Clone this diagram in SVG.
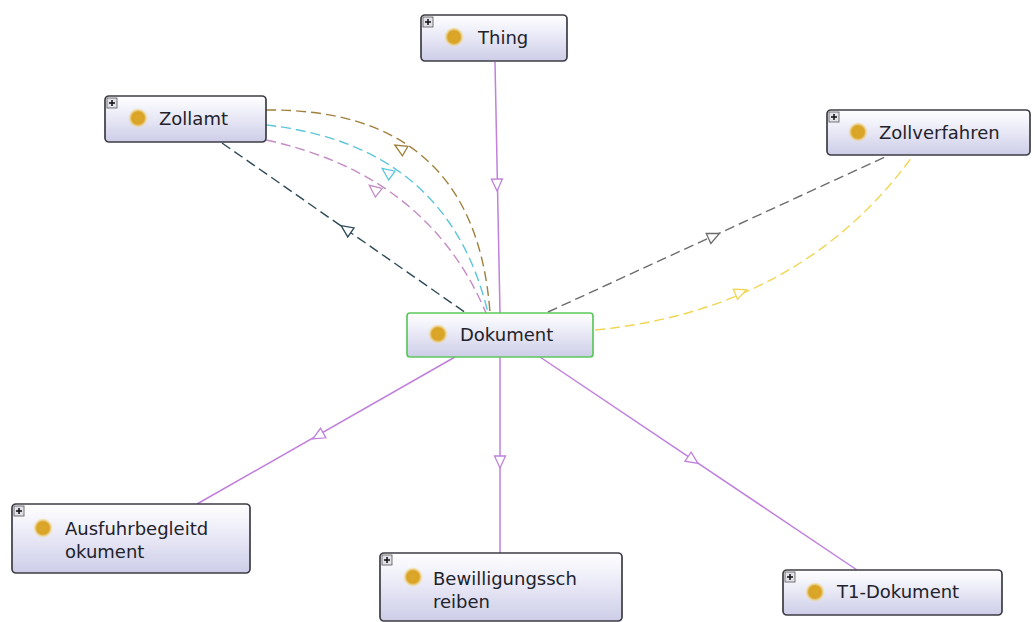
<svg xmlns="http://www.w3.org/2000/svg" width="1035" height="622" viewBox="0 0 1035 622">
  <defs>
    <linearGradient id="boxFill" x1="0" y1="0" x2="0" y2="1">
      <stop offset="0" stop-color="#ffffff"/>
      <stop offset="0.4" stop-color="#ececf8"/>
      <stop offset="1" stop-color="#cdcde8"/>
    </linearGradient>
    <radialGradient id="dot" cx="0.5" cy="0.5" r="0.5">
      <stop offset="0" stop-color="#dca82a"/>
      <stop offset="0.62" stop-color="#d9a326"/>
      <stop offset="0.8" stop-color="#ecc868" stop-opacity="0.7"/>
      <stop offset="1" stop-color="#f4dc90" stop-opacity="0"/>
    </radialGradient>
    <!-- open triangle arrowhead, pointing along +x, centred on origin -->
    <polygon id="tri" points="6,0 -6,-5.5 -6,5.5"/>
    <!-- expand icon drawn at a node's top-left corner -->
    <g id="plus">
      <rect x="0" y="0" width="10" height="10" fill="#e2e2ea" stroke="#555" stroke-width="0.8"/>
      <path d="M2,5 H8 M5,2 V8" stroke="#111" stroke-width="1.5"/>
    </g>
  </defs>
  <style>
    .box { fill: url(#boxFill); stroke: #3c3c44; stroke-width: 1.7; }
    .focus { fill: url(#boxFill); stroke: #5cc85c; stroke-width: 1.7; }
    .lbl { font-family: "DejaVu Sans", Verdana, sans-serif; font-size: 18px; fill: #22222a; }
    .isa { stroke: #c080dc; stroke-width: 1.5; fill: none; }
    .isa-head { stroke: #c080dc; stroke-width: 1.3; fill: #ffffff; }
    .rel { stroke-width: 1.4; fill: none; stroke-dasharray: 10 5; }
    .head { stroke-width: 1.3; fill: #ffffff; }
  </style>

  <rect width="1035" height="622" fill="#ffffff"/>

  <g id="connectors">
    <!-- subclass edges -->
    <path class="isa" d="M495,62 L500,313"/>
    <use href="#tri" class="isa-head" transform="translate(497,185) rotate(89)"/>
    <path class="isa" d="M455,357 L197,504"/>
    <use href="#tri" class="isa-head" transform="translate(318,436) rotate(150.3)"/>
    <path class="isa" d="M500,357 L500,553"/>
    <use href="#tri" class="isa-head" transform="translate(500,462) rotate(90)"/>
    <path class="isa" d="M540,357 L857,570"/>
    <use href="#tri" class="isa-head" transform="translate(693,460) rotate(33.9)"/>

    <!-- object properties towards Zollamt -->
    <path class="rel" stroke="#a0803c" d="M266,110 Q475,108 490,313"/>
    <use href="#tri" class="head" stroke="#a0803c" transform="translate(400,148) rotate(-150)"/>
    <path class="rel" stroke="#5cc6dc" d="M266,125 Q448,145 488,313"/>
    <use href="#tri" class="head" stroke="#5cc6dc" transform="translate(387,172) rotate(-144)"/>
    <path class="rel" stroke="#c48cc4" d="M266,140 Q428,175 486,313"/>
    <use href="#tri" class="head" stroke="#c48cc4" transform="translate(374,189) rotate(-142)"/>
    <path class="rel" stroke="#2e4a58" d="M222,143 L466,313"/>
    <use href="#tri" class="head" stroke="#2e4a58" transform="translate(346,229) rotate(-145.1)"/>

    <!-- object properties towards Zollverfahren -->
    <path class="rel" stroke="#6c6c6c" d="M548,312 L885,157"/>
    <use href="#tri" class="head" stroke="#6c6c6c" transform="translate(714,236) rotate(-24.7)"/>
    <path class="rel" stroke="#f0d654" d="M595,330 Q800,310 912,157"/>
    <use href="#tri" class="head" stroke="#f0d654" transform="translate(741,292) rotate(-22)"/>
  </g>

  <g id="node-thing">
    <rect class="box" x="421" y="15" width="146" height="46" rx="4"/>
    <use href="#plus" x="423" y="17"/>
    <circle cx="454" cy="37" r="10" fill="url(#dot)"/>
    <text class="lbl" x="478" y="44">Thing</text>
  </g>

  <g id="node-zollamt">
    <rect class="box" x="105" y="96" width="161" height="46" rx="4"/>
    <use href="#plus" x="107" y="98"/>
    <circle cx="138" cy="118" r="10" fill="url(#dot)"/>
    <text class="lbl" x="159" y="125">Zollamt</text>
  </g>

  <g id="node-zollverfahren">
    <rect class="box" x="827" y="110" width="203" height="45" rx="4"/>
    <use href="#plus" x="829" y="112"/>
    <circle cx="858" cy="132" r="10" fill="url(#dot)"/>
    <text class="lbl" x="879" y="139">Zollverfahren</text>
  </g>

  <g id="node-dokument">
    <rect class="focus" x="407" y="313" width="186" height="44" rx="3"/>
    <circle cx="438" cy="334" r="10" fill="url(#dot)"/>
    <text class="lbl" x="460" y="341">Dokument</text>
  </g>

  <g id="node-ausfuhrbegleitdokument">
    <rect class="box" x="12" y="504" width="238" height="69" rx="4"/>
    <use href="#plus" x="14" y="506"/>
    <circle cx="43" cy="528" r="10" fill="url(#dot)"/>
    <text class="lbl" x="65" y="535">Ausfuhrbegleitd</text>
    <text class="lbl" x="65" y="558">okument</text>
  </g>

  <g id="node-bewilligungsschreiben">
    <rect class="box" x="380" y="553" width="242" height="68" rx="4"/>
    <use href="#plus" x="382" y="555"/>
    <circle cx="413" cy="577" r="10" fill="url(#dot)"/>
    <text class="lbl" x="433" y="585">Bewilligungssch</text>
    <text class="lbl" x="433" y="608">reiben</text>
  </g>

  <g id="node-t1-dokument">
    <rect class="box" x="783" y="570" width="219" height="45" rx="4"/>
    <use href="#plus" x="785" y="572"/>
    <circle cx="815" cy="592" r="10" fill="url(#dot)"/>
    <text class="lbl" x="837" y="598">T1-Dokument</text>
  </g>
</svg>
